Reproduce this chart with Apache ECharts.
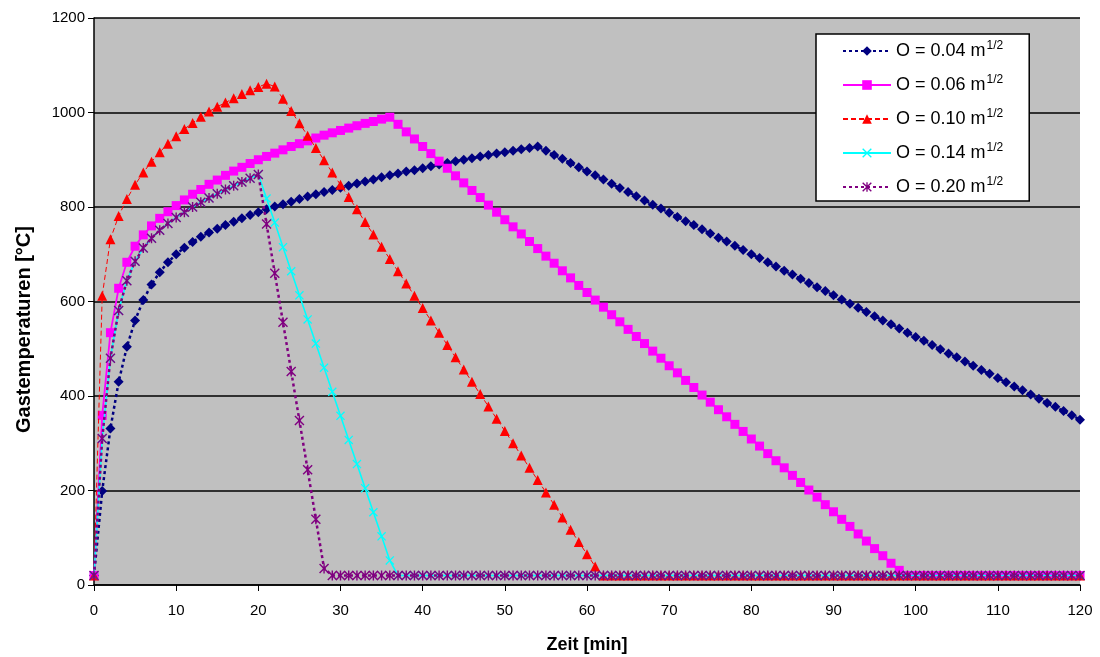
<!DOCTYPE html>
<html>
<head>
<meta charset="utf-8">
<script src="https://cdn.jsdelivr.net/npm/echarts@6/dist/echarts.min.js"></script>
<style>
html,body{margin:0;padding:0;background:#fff;}
#chart{width:1100px;height:657px;}
</style>
</head>
<body>
<div id="chart"></div>
<script>
// Time axis (minutes)
const minutes = [0,1,2,3,4,5,6,7,8,9,10,11,12,13,14,15,16,17,18,19,20,21,22,23,24,25,26,27,28,29,30,31,32,33,34,35,36,37,38,39,40,41,42,43,44,45,46,47,48,49,50,51,52,53,54,55,56,57,58,59,60,61,62,63,64,65,66,67,68,69,70,71,72,73,74,75,76,77,78,79,80,81,82,83,84,85,86,87,88,89,90,91,92,93,94,95,96,97,98,99,100,101,102,103,104,105,106,107,108,109,110,111,112,113,114,115,116,117,118,119,120];

const seriesNames = ['O = 0.04', 'O = 0.06', 'O = 0.10', 'O = 0.14', 'O = 0.20'];

// Gas temperatures [°C], one value per minute 0..120
const temp004 = [20,199,331,430,504,560,603,636,662,683,
  700,714,726,737,746,754,762,769,776,783,
  789,795,801,806,811,817,822,827,832,836,
  841,845,850,854,858,863,867,871,875,878,
  882,886,890,893,897,900,903,907,910,913,
  916,919,922,925,928,919,910,902,893,884,
  875,867,858,849,840,832,823,814,805,797,
  788,779,770,762,753,744,735,727,718,709,
  700,692,683,674,665,657,648,639,630,622,
  613,604,595,587,578,569,560,552,543,534,
  525,517,508,499,490,482,473,464,455,447,
  438,429,420,412,403,394,385,377,368,359,
  350];

const temp006 = [20,359,534,628,683,717,741,760,776,790,
  803,815,827,837,848,857,867,876,884,892,
  900,907,914,921,928,934,940,946,952,957,
  962,967,972,977,981,986,990,975,959,944,
  928,913,897,882,866,851,835,820,804,789,
  773,758,743,727,712,696,681,665,650,634,
  619,603,588,572,557,541,526,511,495,480,
  464,449,433,418,402,387,371,356,340,325,
  309,294,278,263,248,232,217,201,186,170,
  155,139,124,108,93,77,62,46,31,20,
  20,20,20,20,20,20,20,20,20,20,
  20,20,20,20,20,20,20,20,20,20,
  20];

const temp010 = [20,612,732,781,817,847,873,896,916,934,
  950,965,978,991,1002,1012,1021,1030,1039,1047,
  1054,1061,1055,1029,1003,977,951,925,899,873,
  847,821,795,768,742,716,690,664,638,612,
  586,560,534,508,482,456,430,404,378,352,
  326,300,274,248,222,196,170,143,117,91,
  65,39,20,20,20,20,20,20,20,20,
  20,20,20,20,20,20,20,20,20,20,
  20,20,20,20,20,20,20,20,20,20,
  20,20,20,20,20,20,20,20,20,20,
  20,20,20,20,20,20,20,20,20,20,
  20,20,20,20,20,20,20,20,20,20,
  20];

const temp014 = [20,310,480,581,644,685,713,734,751,765,
  778,789,800,810,819,828,837,845,853,861,
  869,818,767,715,664,613,562,511,460,409,
  358,307,256,205,154,103,52,20,20,20,
  20,20,20,20,20,20,20,20,20,20,
  20,20,20,20,20,20,20,20,20,20,
  20,20,20,20,20,20,20,20,20,20,
  20,20,20,20,20,20,20,20,20,20,
  20,20,20,20,20,20,20,20,20,20,
  20,20,20,20,20,20,20,20,20,20,
  20,20,20,20,20,20,20,20,20,20,
  20,20,20,20,20,20,20,20,20,20,
  20];

const temp020 = [20,310,480,581,644,685,713,734,751,765,
  778,789,800,810,819,828,837,845,853,861,
  869,764,660,556,452,348,244,139,35,20,
  20,20,20,20,20,20,20,20,20,20,
  20,20,20,20,20,20,20,20,20,20,
  20,20,20,20,20,20,20,20,20,20,
  20,20,20,20,20,20,20,20,20,20,
  20,20,20,20,20,20,20,20,20,20,
  20,20,20,20,20,20,20,20,20,20,
  20,20,20,20,20,20,20,20,20,20,
  20,20,20,20,20,20,20,20,20,20,
  20,20,20,20,20,20,20,20,20,20,
  20];

const seriesValues = [temp004, temp006, temp010, temp014, temp020];

const FONT = '"Liberation Sans", Arial, sans-serif';
const xMark = 'path://M0,1 L1,0 L5,4 L9,0 L10,1 L6,5 L10,9 L9,10 L5,6 L1,10 L0,9 L4,5 Z';
const starMark = 'path://M0,1 L1,0 L5,4 L9,0 L10,1 L6,5 L10,9 L9,10 L5,6 L1,10 L0,9 L4,5 Z M4.3,0 L5.7,0 L5.7,10 L4.3,10 Z';

const styles = [
  {color:'#000080', line:{width:2.5, type:[3,3]}, symbol:'diamond', size:10},
  {color:'#FF00FF', line:{width:1.8, type:'solid'}, symbol:'rect', size:9},
  {color:'#FF0000', line:{width:1, type:[5,3]}, symbol:'triangle', size:10},
  {color:'#00FFFF', line:{width:1.6, type:'solid'}, symbol:xMark, size:9},
  {color:'#800080', line:{width:2.5, type:[3,3]}, symbol:starMark, size:10}
];

function pairs(vals){
  return minutes.map((m, i) => [m, vals[i]]);
}

const series = seriesNames.map((name, k) => ({
  name: name,
  type: 'line',
  data: pairs(seriesValues[k]),
  symbol: styles[k].symbol,
  symbolSize: styles[k].size,
  showAllSymbol: true,
  lineStyle: {color: styles[k].color, width: styles[k].line.width, type: styles[k].line.type},
  itemStyle: {color: styles[k].color, borderWidth: 0},
  emphasis: {disabled: true},
  z: 2 + k
}));

const chart = echarts.init(document.getElementById('chart'), null, {renderer: 'canvas'});
chart.setOption({
  animation: false,
  backgroundColor: '#ffffff',
  textStyle: {fontFamily: FONT},
  grid: {left: 94, right: 20, top: 18, bottom: 72, show: true, backgroundColor: '#C0C0C0', borderWidth: 0,
         containLabel: false, outerBoundsMode: 'none'},
  xAxis: {
    type: 'value', min: 0, max: 120, interval: 10,
    name: 'Zeit [min]', nameLocation: 'middle', nameGap: 51,
    nameTextStyle: {fontFamily: FONT, fontWeight: 'bold', fontSize: 18, color: '#000'},
    axisLine: {show: true, onZero: false, lineStyle: {color: '#000', width: 1.5}},
    axisTick: {show: true, inside: false, length: 6, lineStyle: {color: '#000', width: 1}},
    axisLabel: {color: '#000', fontSize: 15, fontFamily: FONT, margin: 18},
    splitLine: {show: false}
  },
  yAxis: {
    type: 'value', min: 0, max: 1200, interval: 200,
    name: 'Gastemperaturen [°C]', nameLocation: 'middle', nameGap: 60,
    nameTextStyle: {fontFamily: FONT, fontWeight: 'bold', fontSize: 20, color: '#000', padding: [0, 56, 0, 0]},
    axisLine: {show: true, lineStyle: {color: '#000', width: 1.5}},
    axisTick: {show: true, inside: false, length: 6, lineStyle: {color: '#000', width: 1}},
    axisLabel: {color: '#000', fontSize: 15, fontFamily: FONT, margin: 9, formatter: v => String(v)},
    splitLine: {show: true, lineStyle: {color: '#000', width: 1.5}}
  },
  legend: {
    orient: 'vertical', left: 816, top: 34,
    backgroundColor: '#ffffff', borderColor: '#000', borderWidth: 1.5, borderRadius: 0,
    padding: [6, 26, 5, 26],
    itemWidth: 48, itemHeight: 12, itemGap: 14,
    data: seriesNames,
    formatter: name => '{t|' + name + ' m}{s|1/2}',
    textStyle: {
      color: '#000', fontFamily: FONT,
      rich: {
        t: {fontSize: 18, fontFamily: FONT, color: '#000', lineHeight: 22},
        s: {fontSize: 12, fontFamily: FONT, color: '#000', verticalAlign: 'top', lineHeight: 22, padding: [0, 0, 7, 1]}
      }
    }
  },
  series: series
});
</script>
</body>
</html>
